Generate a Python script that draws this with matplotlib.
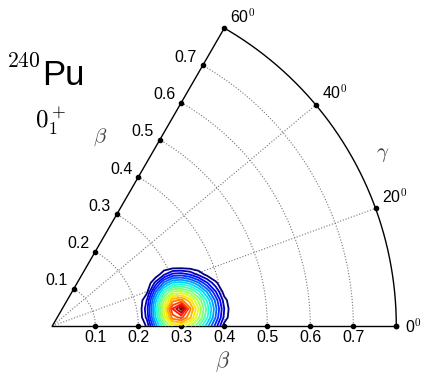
import numpy as np
import matplotlib
matplotlib.use('Agg')
from matplotlib import pyplot as plt

plt.rcParams['mathtext.fontset'] = 'cm'
plt.rcParams['font.family'] = ['Liberation Sans', 'DejaVu Sans']

# Collective wave function |psi|^2 of the 0+_1 state
# on a cartesian grid x = beta*cos(gamma), y = beta*sin(gamma)
grid_x = [0.20, 0.22, 0.24, 0.26, 0.28, 0.30, 0.32, 0.34, 0.36, 0.38, 0.40, 0.42, 0.44]
grid_y = [0.00, 0.02, 0.04, 0.06, 0.08, 0.10, 0.12, 0.14, 0.16]
density = [
    [0.000, 0.057, 0.272, 0.465, 0.603, 0.624, 0.563, 0.455, 0.323, 0.178, 0.027, 0.000, 0.000],
    [0.000, 0.116, 0.350, 0.578, 0.777, 0.817, 0.711, 0.565, 0.408, 0.247, 0.084, 0.000, 0.000],
    [0.000, 0.132, 0.372, 0.613, 0.852, 0.970, 0.765, 0.599, 0.433, 0.266, 0.100, 0.000, 0.000],
    [0.000, 0.103, 0.333, 0.552, 0.730, 0.763, 0.674, 0.540, 0.389, 0.232, 0.072, 0.000, 0.000],
    [0.000, 0.034, 0.242, 0.425, 0.550, 0.569, 0.515, 0.416, 0.291, 0.152, 0.020, 0.000, 0.000],
    [0.000, 0.000, 0.116, 0.267, 0.360, 0.373, 0.334, 0.259, 0.157, 0.062, 0.000, 0.000, 0.000],
    [0.000, 0.000, 0.010, 0.092, 0.166, 0.176, 0.146, 0.086, 0.030, 0.000, 0.000, 0.000, 0.000],
    [0.000, 0.000, 0.000, 0.000, 0.000, 0.000, 0.000, 0.000, 0.000, 0.000, 0.000, 0.000, 0.000],
    [0.000, 0.000, 0.000, 0.000, 0.000, 0.000, 0.000, 0.000, 0.000, 0.000, 0.000, 0.000, 0.000],
]

beta_ticks = [0.1, 0.2, 0.3, 0.4, 0.5, 0.6, 0.7]
beta_labels = ['0.1', '0.2', '0.3', '0.4', '0.5', '0.6', '0.7']
gamma_ticks = [0, 20, 40, 60]
gamma_labels = ['0$^0$', '20$^0$', '40$^0$', '60$^0$']
beta_max = 0.8
levels = np.linspace(0.05, 0.95, 19)

# pixel scale of the picture (430 px per unit of beta, origin at 52,326)
PX = 1.0 / 430

fig = plt.figure(figsize=(4.22, 3.77), dpi=100)
ax = fig.add_axes([0, 0, 1, 1])
ax.set_xlim(-52.3 * PX, 369.7 * PX)
ax.set_ylim(-51 * PX, 326 * PX)
ax.axis('off')

theta = np.radians(np.linspace(0, 60, 300))
dot_style = dict(color='#777777', lw=0.8, ls=(0, (1, 1.6)))

# dotted beta circles and gamma rays
for b in beta_ticks:
    ax.plot(b * np.cos(theta), b * np.sin(theta), **dot_style)
for g in gamma_ticks[1:-1]:
    gr = np.radians(g)
    ax.plot([0, beta_max * np.cos(gr)], [0, beta_max * np.sin(gr)], **dot_style)

# wedge frame
g60 = np.radians(60)
ax.plot(beta_max * np.cos(theta), beta_max * np.sin(theta), color='black', lw=1.0)
ax.plot([0, beta_max], [0, 0], color='black', lw=1.0)
ax.plot([0, beta_max * np.cos(g60)], [0, beta_max * np.sin(g60)], color='black', lw=1.0)

# tick dots and labels along the gamma = 0 axis
bx = np.array(beta_ticks + [beta_max])
ax.plot(bx, np.zeros_like(bx), 'o', color='black', ms=3)
for b, lab in zip(beta_ticks, beta_labels):
    ax.text(b, -12 * PX, lab, ha='center', va='center', fontsize=11.5)

# tick dots and labels along the gamma = 60 axis
bs = np.array(beta_ticks)
ax.plot(bs * np.cos(g60), bs * np.sin(g60), 'o', color='black', ms=3)
for b, lab in zip(beta_ticks, beta_labels):
    ax.text(b * np.cos(g60) - 17 * PX, b * np.sin(g60) + 8 * PX, lab,
            ha='center', va='center', fontsize=11.5)

# gamma dots and labels on the outer arc
for g, lab in zip(gamma_ticks, gamma_labels):
    gr = np.radians(g)
    px, py = beta_max * np.cos(gr), beta_max * np.sin(gr)
    ax.plot(px, py, 'o', color='black', ms=3)
    if g == 0:
        ax.text(px + 17 * PX, py, lab, ha='center', va='center', fontsize=11.5)
    else:
        ax.text(px + 19 * PX, py + 12 * PX, lab, ha='center', va='center', fontsize=11.5)

# contours of the wave function
X, Y = np.meshgrid(grid_x, grid_y)
ax.contour(X, Y, np.array(density), levels=levels, cmap='jet', linewidths=1.3, zorder=5)

# axis names
ax.text(0.1112, 0.4395, r'$\beta$', ha='center', va='center', fontsize=15, color='#444444')
ax.text(0.7691, 0.3977, r'$\gamma$', ha='center', va='center', fontsize=15, color='#444444')
ax.text(0.3970, -0.0837, r'$\beta$', ha='center', va='center', fontsize=16, color='#444444')

# nucleus and state
ax.text(-45 * PX, (326 - 67) * PX, '$240$', ha='left', va='baseline', fontsize=15.5)
ax.text(-10 * PX, (326 - 85) * PX, 'Pu', ha='left', va='baseline', fontsize=25)
ax.text(-17.3 * PX, (326 - 128) * PX, '$0_1^+$', ha='left', va='baseline', fontsize=18)

fig.savefig('out.png', dpi=100)
